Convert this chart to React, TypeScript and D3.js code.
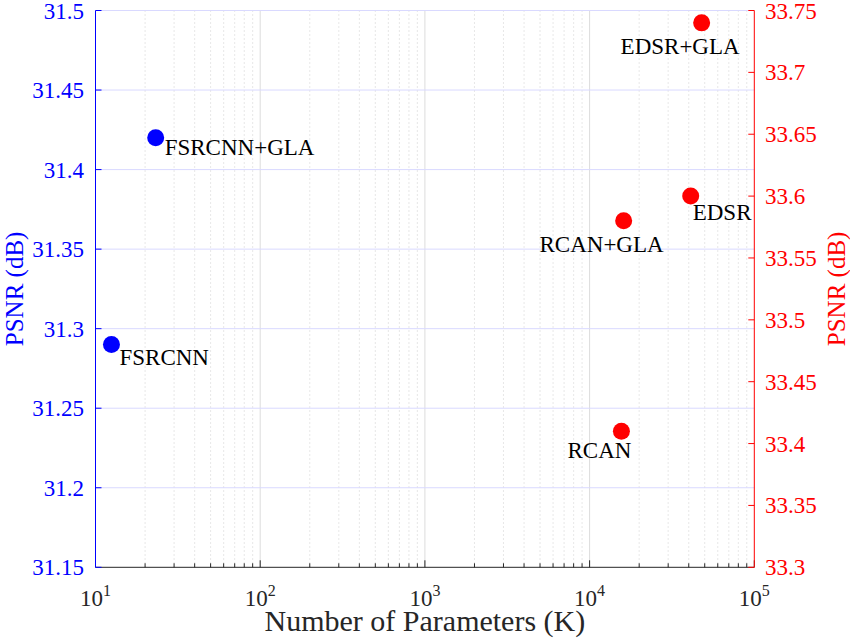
import { useEffect, useRef } from "react";
import * as d3 from "d3";

// Parameter counts (K) and PSNR (dB) for each model
const models = ["FSRCNN", "FSRCNN+GLA", "RCAN", "RCAN+GLA", "EDSR", "EDSR+GLA"];
const params = [12.5, 23.2, 15600, 16100, 41100, 47900];
const psnr = [31.29, 31.42, 33.41, 33.58, 33.6, 33.74];
const side = ["left", "left", "right", "right", "right", "right"];

const leftTicks = [31.15, 31.2, 31.25, 31.3, 31.35, 31.4, 31.45, 31.5];
const rightTicks = [33.3, 33.35, 33.4, 33.45, 33.5, 33.55, 33.6, 33.65, 33.7, 33.75];
const xDecades = [1, 2, 3, 4, 5];

// label placement relative to marker centre
const labelOffsets = [
  { dx: 8, dy: 20, anchor: "start" },
  { dx: 9, dy: 17, anchor: "start" },
  { dx: 10, dy: 27, anchor: "end" },
  { dx: 40, dy: 31, anchor: "end" },
  { dx: 2, dy: 24, anchor: "start" },
  { dx: 38, dy: 31, anchor: "end" },
];

const W = 850;
const H = 641;
const M = { left: 95.5, right: 754.3, top: 10.5, bottom: 567.3 };
const FONT = "Liberation Serif, DejaVu Serif, Times New Roman, serif";
const BLUE = "#0000ff";
const RED = "#ff0000";
const AXIS = "#262626";

export default function App() {
  const svgRef = useRef<SVGSVGElement>(null);

  useEffect(() => {
    if (!svgRef.current) return;
    const svg = d3.select(svgRef.current);
    svg.selectAll("*").remove();

    const x = d3.scaleLog().domain([10, 1e5]).range([M.left, M.right]);
    const yL = d3.scaleLinear().domain([31.15, 31.5]).range([M.bottom, M.top]);
    const yR = d3.scaleLinear().domain([33.3, 33.75]).range([M.bottom, M.top]);

    // Minor vertical grid (dotted)
    const minor: number[] = [];
    for (let e = 1; e < 5; e++) for (let k = 2; k <= 9; k++) minor.push(k * 10 ** e);
    svg
      .append("g")
      .selectAll("line")
      .data(minor)
      .join("line")
      .attr("x1", (d) => x(d))
      .attr("x2", (d) => x(d))
      .attr("y1", M.top)
      .attr("y2", M.bottom)
      .attr("stroke", "#c4c4c4")
      .attr("stroke-width", 0.8)
      .attr("stroke-dasharray", "1,3");

    // Major vertical grid
    svg
      .append("g")
      .selectAll("line")
      .data(xDecades.slice(1, -1).map((e) => 10 ** e))
      .join("line")
      .attr("x1", (d) => x(d))
      .attr("x2", (d) => x(d))
      .attr("y1", M.top)
      .attr("y2", M.bottom)
      .attr("stroke", "#dcdcdc")
      .attr("stroke-width", 1);

    // Horizontal grid (left axis)
    svg
      .append("g")
      .selectAll("line")
      .data(leftTicks.slice(1))
      .join("line")
      .attr("x1", M.left)
      .attr("x2", M.right)
      .attr("y1", (d) => yL(d))
      .attr("y2", (d) => yL(d))
      .attr("stroke", "#d9d9ff")
      .attr("stroke-width", 1);

    // Bottom axis
    const gx = svg.append("g");
    gx.append("line")
      .attr("x1", M.left)
      .attr("x2", M.right)
      .attr("y1", M.bottom)
      .attr("y2", M.bottom)
      .attr("stroke", AXIS)
      .attr("stroke-width", 1);
    gx.selectAll("line.minor")
      .data(minor)
      .join("line")
      .attr("class", "minor")
      .attr("x1", (d) => x(d))
      .attr("x2", (d) => x(d))
      .attr("y1", M.bottom)
      .attr("y2", M.bottom - 4)
      .attr("stroke", AXIS);
    gx.selectAll("line.major")
      .data(xDecades)
      .join("line")
      .attr("class", "major")
      .attr("x1", (d) => x(10 ** d))
      .attr("x2", (d) => x(10 ** d))
      .attr("y1", M.bottom)
      .attr("y2", M.bottom - 7)
      .attr("stroke", AXIS);
    const xt = gx
      .selectAll("text")
      .data(xDecades)
      .join("text")
      .attr("x", (d) => x(10 ** d))
      .attr("y", 606)
      .attr("text-anchor", "middle")
      .style("font-family", FONT)
      .attr("font-size", 23)
      .attr("fill", AXIS);
    xt.append("tspan").text("10");
    xt.append("tspan")
      .attr("font-size", 16)
      .attr("dy", -10)
      .text((d) => String(d));

    gx.append("text")
      .attr("x", (M.left + M.right) / 2)
      .attr("y", 631)
      .attr("text-anchor", "middle")
      .style("font-family", FONT)
      .attr("font-size", 30)
      .attr("fill", AXIS)
      .text("Number of Parameters (K)");

    // Left axis
    const gl = svg.append("g");
    gl.append("line")
      .attr("x1", M.left)
      .attr("x2", M.left)
      .attr("y1", M.top)
      .attr("y2", M.bottom)
      .attr("stroke", BLUE);
    gl.selectAll("line.t")
      .data(leftTicks)
      .join("line")
      .attr("class", "t")
      .attr("x1", M.left)
      .attr("x2", M.left + 6)
      .attr("y1", (d) => yL(d))
      .attr("y2", (d) => yL(d))
      .attr("stroke", BLUE);
    gl.selectAll("text.t")
      .data(leftTicks)
      .join("text")
      .attr("class", "t")
      .attr("x", 84)
      .attr("y", (d) => yL(d) + 8)
      .attr("text-anchor", "end")
      .style("font-family", FONT)
      .attr("font-size", 23)
      .attr("fill", BLUE)
      .text((d) => String(d));
    gl.append("text")
      .attr("transform", `translate(23,${(M.top + M.bottom) / 2}) rotate(-90)`)
      .attr("text-anchor", "middle")
      .style("font-family", FONT)
      .attr("font-size", 25)
      .attr("fill", BLUE)
      .text("PSNR (dB)");

    // Right axis
    const gr = svg.append("g");
    gr.append("line")
      .attr("x1", M.right)
      .attr("x2", M.right)
      .attr("y1", M.top)
      .attr("y2", M.bottom)
      .attr("stroke", RED);
    gr.selectAll("line.t")
      .data(rightTicks)
      .join("line")
      .attr("class", "t")
      .attr("x1", M.right)
      .attr("x2", M.right - 6)
      .attr("y1", (d) => yR(d))
      .attr("y2", (d) => yR(d))
      .attr("stroke", RED);
    gr.selectAll("text.t")
      .data(rightTicks)
      .join("text")
      .attr("class", "t")
      .attr("x", 765)
      .attr("y", (d) => yR(d) + 8)
      .attr("text-anchor", "start")
      .style("font-family", FONT)
      .attr("font-size", 23)
      .attr("fill", RED)
      .text((d) => String(d));
    gr.append("text")
      .attr("transform", `translate(845,${(M.top + M.bottom) / 2}) rotate(-90)`)
      .attr("text-anchor", "middle")
      .style("font-family", FONT)
      .attr("font-size", 25)
      .attr("fill", RED)
      .text("PSNR (dB)");

    // Points and labels
    const pts = models.map((name, i) => ({
      name,
      cx: x(params[i]),
      cy: side[i] === "left" ? yL(psnr[i]) : yR(psnr[i]),
      color: side[i] === "left" ? BLUE : RED,
      off: labelOffsets[i],
    }));

    svg
      .append("g")
      .selectAll("circle")
      .data(pts)
      .join("circle")
      .attr("cx", (d) => d.cx)
      .attr("cy", (d) => d.cy)
      .attr("r", 8.5)
      .attr("fill", (d) => d.color);

    svg
      .append("g")
      .selectAll("text")
      .data(pts)
      .join("text")
      .attr("x", (d) => d.cx + d.off.dx)
      .attr("y", (d) => d.cy + d.off.dy)
      .attr("text-anchor", (d) => d.off.anchor)
      .style("font-family", FONT)
      .attr("font-size", 23)
      .attr("fill", "#000")
      .text((d) => d.name);
  }, []);

  return (
    <svg
      ref={svgRef}
      width={W}
      height={H}
      style={{ position: "absolute", left: 0, top: 0, background: "#fff" }}
    />
  );
}
